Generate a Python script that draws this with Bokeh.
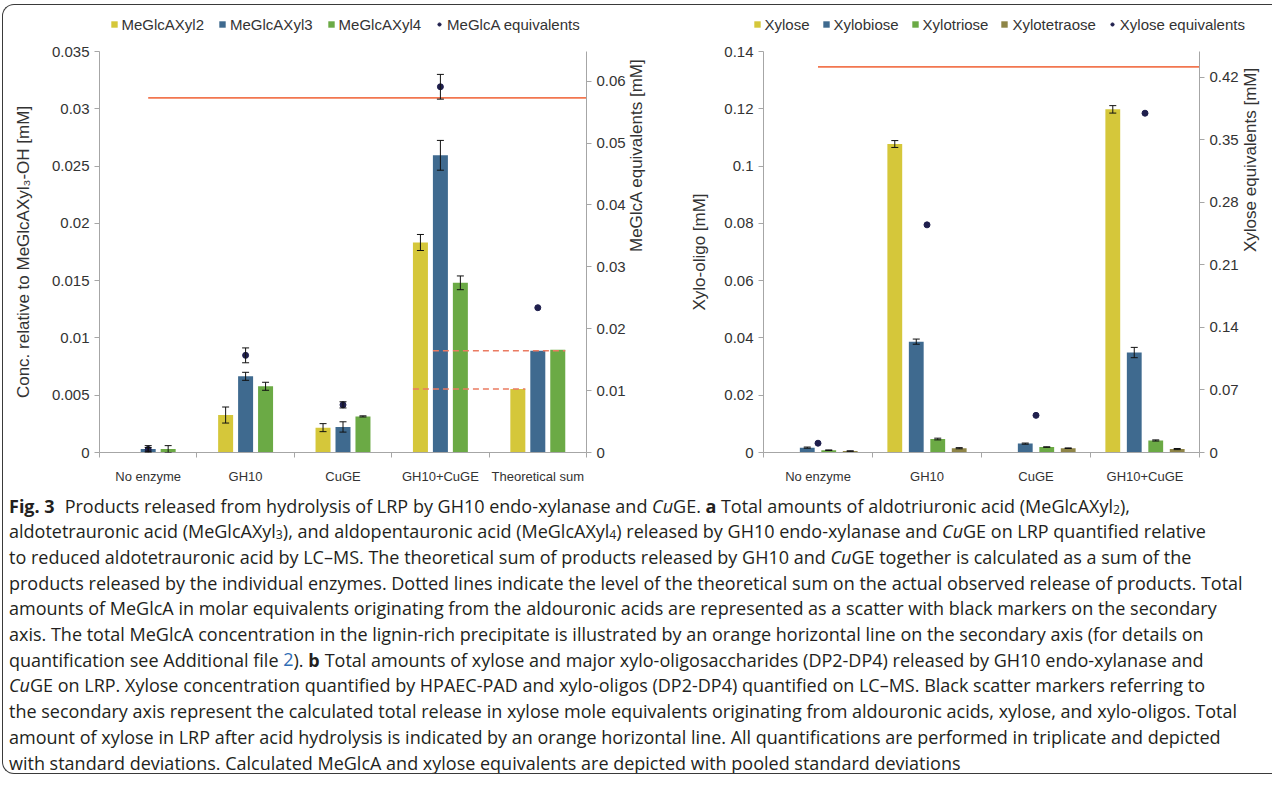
import math
import subprocess

from bokeh.plotting import figure
from bokeh.models import (Range1d, LinearAxis, FixedTicker, Whisker, TeeHead,
                          ColumnDataSource, Legend, LegendItem)
from bokeh.layouts import row, column
from bokeh.core.properties import value
from bokeh.embed import file_html
from bokeh.resources import INLINE

# ------------------------------------------------------------------ data: panel a
a_categories = ["No enzyme", "GH10", "CuGE", "GH10+CuGE", "Theoretical sum"]
a_series = ["MeGlcAXyl2", "MeGlcAXyl3", "MeGlcAXyl4"]
a_xyl2 = [0.00003, 0.00327, 0.00217, 0.01833, 0.00555]
a_xyl2_err = [0.0, 0.0007, 0.00035, 0.0007, 0.0]
a_xyl3 = [0.0003, 0.00665, 0.00223, 0.02594, 0.00888]
a_xyl3_err = [0.0003, 0.00035, 0.00045, 0.0013, 0.0]
a_xyl4 = [0.0003, 0.00578, 0.00315, 0.01481, 0.00896]
a_xyl4_err = [0.0003, 0.00035, 0.00005, 0.0006, 0.0]
a_eq_name = "MeGlcA equivalents"
a_eq = [0.0005, 0.0157, 0.0077, 0.0591, 0.0234]
a_eq_err = [0.0003, 0.0012, 0.0005, 0.002, 0.0]
a_total = 0.0573
a_left_max = 0.035
a_left_ticks = [0.0, 0.005, 0.01, 0.015, 0.02, 0.025, 0.03, 0.035]
a_left_tick_labels = ["0", "0.005", "0.01", "0.015", "0.02", "0.025", "0.03", "0.035"]
a_right_max = 0.0648
a_right_ticks = [0.0, 0.01, 0.02, 0.03, 0.04, 0.05, 0.06]
a_right_tick_labels = ["0", "0.01", "0.02", "0.03", "0.04", "0.05", "0.06"]
a_left_title = "Conc. relative to MeGlcAXyl\u2083-OH [mM]"
a_right_title = "MeGlcA equivalents [mM]"

# ------------------------------------------------------------------ data: panel b
b_categories = ["No enzyme", "GH10", "CuGE", "GH10+CuGE"]
b_series = ["Xylose", "Xylobiose", "Xylotriose", "Xylotetraose"]
b_xylose = [0.0001, 0.1077, 0.0001, 0.1198]
b_xylose_err = [0.0, 0.0012, 0.0, 0.0013]
b_xylobiose = [0.0017, 0.0387, 0.0031, 0.0349]
b_xylobiose_err = [0.0002, 0.0009, 0.0002, 0.0018]
b_xylotriose = [0.0008, 0.0047, 0.0019, 0.0042]
b_xylotriose_err = [0.0001, 0.0003, 0.0001, 0.0002]
b_xylotetraose = [0.0005, 0.0015, 0.0015, 0.0012]
b_xylotetraose_err = [0.0001, 0.0002, 0.0001, 0.0002]
b_eq_name = "Xylose equivalents"
b_eq = [0.0104, 0.2549, 0.0416, 0.3799]
b_eq_err = [0.0, 0.0, 0.0, 0.0]
b_total = 0.4318
b_left_max = 0.14
b_left_ticks = [0.0, 0.02, 0.04, 0.06, 0.08, 0.1, 0.12, 0.14]
b_left_tick_labels = ["0", "0.02", "0.04", "0.06", "0.08", "0.1", "0.12", "0.14"]
b_right_max = 0.449
b_right_ticks = [0.0, 0.07, 0.14, 0.21, 0.28, 0.35, 0.42]
b_right_tick_labels = ["0", "0.07", "0.14", "0.21", "0.28", "0.35", "0.42"]
b_left_title = "Xylo-oligo [mM]"
b_right_title = "Xylose equivalents [mM]"

# ------------------------------------------------------------------ caption text
caption_lines = [
    [("Fig. 3", "bold"), ("  Products released from hydrolysis of LRP by GH10 endo-xylanase and ", "normal"),
     ("Cu", "italic"), ("GE. ", "normal"), ("a", "bold"),
     (" Total amounts of aldotriuronic acid (MeGlcAXyl", "normal"), ("2", "sub"), ("),", "normal")],
    [("aldotetrauronic acid (MeGlcAXyl", "normal"), ("3", "sub"),
     ("), and aldopentauronic acid (MeGlcAXyl", "normal"), ("4", "sub"),
     (") released by GH10 endo-xylanase and ", "normal"), ("Cu", "italic"),
     ("GE on LRP quantified relative", "normal")],
    [("to reduced aldotetrauronic acid by LC\u2013MS. The theoretical sum of products released by GH10 and ", "normal"),
     ("Cu", "italic"), ("GE together is calculated as a sum of the", "normal")],
    [("products released by the individual enzymes. Dotted lines indicate the level of the theoretical sum on the actual observed release of products. Total", "normal")],
    [("amounts of MeGlcA in molar equivalents originating from the aldouronic acids are represented as a scatter with black markers on the secondary", "normal")],
    [("axis. The total MeGlcA concentration in the lignin-rich precipitate is illustrated by an orange horizontal line on the secondary axis (for details on", "normal")],
    [("quantification see Additional file ", "normal"), ("2", "link"), ("). ", "normal"), ("b", "bold"),
     (" Total amounts of xylose and major xylo-oligosaccharides (DP2-DP4) released by GH10 endo-xylanase and", "normal")],
    [("Cu", "italic"), ("GE on LRP. Xylose concentration quantified by HPAEC-PAD and xylo-oligos (DP2-DP4) quantified on LC\u2013MS. Black scatter markers referring to", "normal")],
    [("the secondary axis represent the calculated total release in xylose mole equivalents originating from aldouronic acids, xylose, and xylo-oligos. Total", "normal")],
    [("amount of xylose in LRP after acid hydrolysis is indicated by an orange horizontal line. All quantifications are performed in triplicate and depicted", "normal")],
    [("with standard deviations. Calculated MeGlcA and xylose equivalents are depicted with pooled standard deviations", "normal")],
]
# text of each caption line that lies left of the picture's middle (x = 640)
caption_left_parts = [
    "Fig. 3  Products released from hydrolysis of LRP by GH10 endo-xylanase ",
    "aldotetrauronic acid (MeGlcAXyl3), and aldopentauronic acid (MeGlcAXyl",
    "to reduced aldotetrauronic acid by LC\u2013MS. The theoretical sum of produ",
    "products released by the individual enzymes. Dotted lines indicate the le",
    "amounts of MeGlcA in molar equivalents originating from the aldouroni",
    "axis. The total MeGlcA concentration in the lignin-rich precipitate is illust",
    "quantification see Additional file 2). b Total amounts of xylose and major ",
    "CuGE on LRP. Xylose concentration quantified by HPAEC-PAD and xylo-ol",
    "the secondary axis represent the calculated total release in xylose mole e",
    "amount of xylose in LRP after acid hydrolysis is indicated by an orange ho",
    "with standard deviations. Calculated MeGlcA and xylose equivalents are ",
]

# ------------------------------------------------------------------ style
YELLOW = "#D5C73A"
BLUE = "#3F6A8F"
GREEN = "#6BAA45"
OLIVE = "#8E8547"
NAVY = "#1F1F4D"
ORANGE = "#F2764F"
DASH = "#EA7B62"
AXIS = "#A6A6A6"
TXT = "#333333"
ERR = "#111111"
CHART_FONT = "Liberation Sans"
CAP_FONT = "Open Sans"

FULL_W = 1269
CONTENT_H = 768
STRIP_H = 36
TOP_H = 445
MB_TOP = 10
MB_BOTTOM = 32


def blank_fig(w, h, xr, yr):
    f = figure(width=w, height=h, x_range=xr, y_range=yr, output_backend="svg",
               toolbar_location=None, min_border=0, x_axis_type=None, y_axis_type=None,
               background_fill_color=None, border_fill_color=None, outline_line_color=None)
    f.xgrid.visible = False
    f.ygrid.visible = False
    return f


def whisker(src, range_name=None):
    kw = {}
    if range_name:
        kw["y_range_name"] = range_name
    return Whisker(source=src, base="x", upper="upper", lower="lower", level="annotation",
                   line_color=ERR, line_width=1,
                   upper_head=TeeHead(size=7, line_color=ERR, line_width=1),
                   lower_head=TeeHead(size=7, line_color=ERR, line_width=1), **kw)


def style_axis(ax, ticks, labels):
    ax.ticker = FixedTicker(ticks=ticks)
    ax.major_label_overrides = dict(zip(ticks, labels))
    ax.minor_tick_line_color = None
    ax.major_tick_out = 5
    ax.major_tick_in = 0
    ax.axis_line_color = AXIS
    ax.major_tick_line_color = AXIS
    ax.major_label_text_font = CHART_FONT
    ax.major_label_text_font_size = "15px"
    ax.major_label_text_color = TXT
    ax.major_label_standoff = 5
    ax.axis_label_text_font = CHART_FONT
    ax.axis_label_text_font_size = "17px"
    ax.axis_label_text_font_style = "normal"
    ax.axis_label_text_color = TXT


def build_panel(width, mb_left, mb_right, cats, vals_list, errs_list, colors, pitch, bar_w,
                eq_vals, eq_errs, total, left_max, left_ticks, left_labels,
                right_max, right_ticks, right_labels, left_title, right_title,
                left_standoff, right_standoff):
    n = len(cats)
    p = figure(width=width, height=TOP_H, x_range=Range1d(0, n), y_range=Range1d(0, left_max),
               output_backend="svg", toolbar_location=None,
               min_border_left=mb_left, min_border_right=mb_right,
               min_border_top=MB_TOP, min_border_bottom=MB_BOTTOM,
               background_fill_color=None, border_fill_color=None, outline_line_color=None)
    p.extra_y_ranges = {"eq": Range1d(0, right_max)}
    p.xgrid.visible = False
    p.ygrid.visible = False

    centers = [i + 0.5 for i in range(n)]
    k = len(vals_list)
    bar_x = []
    for j, (vals, errs, col) in enumerate(zip(vals_list, errs_list, colors)):
        off = (j - (k - 1) / 2.0) * pitch
        xs = [c + off for c in centers]
        bar_x.append(xs)
        p.vbar(x=xs, top=vals, width=bar_w, fill_color=col, line_color=None)
        sel = [i for i in range(n) if errs[i] > 0]
        src = ColumnDataSource(dict(x=[xs[i] for i in sel],
                                    upper=[vals[i] + errs[i] for i in sel],
                                    lower=[vals[i] - errs[i] for i in sel]))
        p.add_layout(whisker(src))

    # total amount line (secondary axis)
    p.segment(x0=[centers[0]], y0=[total], x1=[n], y1=[total], line_color=ORANGE,
              line_width=1.8, y_range_name="eq")

    # equivalents scatter (secondary axis)
    p.scatter(x=centers, y=eq_vals, size=6, marker="circle", fill_color=NAVY,
              line_color=NAVY, y_range_name="eq")
    sel = [i for i in range(n) if eq_errs[i] > 0]
    src = ColumnDataSource(dict(x=[centers[i] for i in sel],
                                upper=[eq_vals[i] + eq_errs[i] for i in sel],
                                lower=[eq_vals[i] - eq_errs[i] for i in sel]))
    p.add_layout(whisker(src, "eq"))

    # axes
    xa = p.xaxis[0]
    xa.ticker = FixedTicker(ticks=centers, minor_ticks=list(range(n + 1)))
    xa.major_label_overrides = dict(zip(centers, cats))
    xa.major_tick_out = 0
    xa.major_tick_in = 0
    xa.minor_tick_out = 5
    xa.minor_tick_in = 0
    xa.minor_tick_line_color = AXIS
    xa.axis_line_color = AXIS
    xa.major_label_text_font = CHART_FONT
    xa.major_label_text_font_size = "13px"
    xa.major_label_text_color = TXT
    xa.major_label_standoff = 11

    ya = p.yaxis[0]
    style_axis(ya, left_ticks, left_labels)
    ya.axis_label = left_title
    ya.axis_label_standoff = left_standoff

    ra = LinearAxis(y_range_name="eq")
    style_axis(ra, right_ticks, right_labels)
    ra.axis_label = right_title
    ra.axis_label_standoff = right_standoff
    ra.axis_label_orientation = math.pi / 2
    p.add_layout(ra, "right")
    return p, bar_x


pa, a_bar_x = build_panel(680, 96, 97, a_categories, [a_xyl2, a_xyl3, a_xyl4],
                          [a_xyl2_err, a_xyl3_err, a_xyl4_err], [YELLOW, BLUE, GREEN],
                          0.205, 0.154, a_eq, a_eq_err, a_total,
                          a_left_max, a_left_ticks, a_left_tick_labels,
                          a_right_max, a_right_ticks, a_right_tick_labels,
                          a_left_title, a_right_title, 16, 8)

# dotted lines: level of the theoretical sum on the observed GH10+CuGE release
half = 0.154 / 2
pa.segment(x0=[a_bar_x[0][3] - half, a_bar_x[1][3] - half],
           y0=[a_xyl2[4], a_xyl3[4]],
           x1=[a_bar_x[0][4] + half, a_bar_x[2][4] + half],
           y1=[a_xyl2[4], a_xyl3[4]],
           line_color=DASH, line_width=1.5, line_dash="6 4")

pb, _ = build_panel(589, 80, 69, b_categories, [b_xylose, b_xylobiose, b_xylotriose, b_xylotetraose],
                    [b_xylose_err, b_xylobiose_err, b_xylotriose_err, b_xylotetraose_err],
                    [YELLOW, BLUE, GREEN, OLIVE],
                    0.197, 0.136, b_eq, b_eq_err, b_total,
                    b_left_max, b_left_ticks, b_left_tick_labels,
                    b_right_max, b_right_ticks, b_right_tick_labels,
                    b_left_title, b_right_title, 12, 9)

# ------------------------------------------------------------------ legends (strip above the plots)
# the strip's own renderers only provide legend swatches; their single point lies outside the view
strip = blank_fig(FULL_W, STRIP_H, Range1d(0, 1), Range1d(0, 1))


def legend_items(names, colors, eq_name):
    items = []
    for name, col in zip(names, colors):
        r = strip.vbar(x=[-10.0], top=[-9.0], bottom=[-10.0], width=0.1,
                       fill_color=col, line_color=None)
        items.append(LegendItem(label=name, renderers=[r]))
    r = strip.scatter(x=[-10.0], y=[-10.0], size=6, marker="circle",
                      fill_color=NAVY, line_color=NAVY)
    items.append(LegendItem(label=eq_name, renderers=[r]))
    return items


def make_legend(items, vx, spacing):
    return Legend(items=items, orientation="horizontal", location=(vx, 8.5),
                  glyph_width=8, glyph_height=8, label_standoff=4, spacing=spacing,
                  padding=0, margin=0, label_height=16,
                  label_text_font=CHART_FONT, label_text_font_size="15px",
                  label_text_color=TXT, border_line_color=None,
                  background_fill_alpha=0)


strip.add_layout(make_legend(legend_items(a_series, [YELLOW, BLUE, GREEN], a_eq_name), 106.5, 14))
strip.add_layout(make_legend(legend_items(b_series, [YELLOW, BLUE, GREEN, OLIVE], b_eq_name), 749.5, 12))


# ------------------------------------------------------------------ caption
def _font_file(pattern):
    try:
        out = subprocess.run(["fc-match", "-f", "%{file}", pattern], capture_output=True,
                             text=True, timeout=10).stdout.strip()
        return out or None
    except Exception:
        return None


class Measurer:
    def __init__(self, family):
        self.files = {
            "normal": _font_file(family + ":style=Regular"),
            "bold": _font_file(family + ":style=Bold"),
            "italic": _font_file(family + ":style=Italic"),
        }
        self.fonts = {}
        try:
            from PIL import ImageFont
            for k, f in self.files.items():
                if f:
                    self.fonts[k] = ImageFont.truetype(f, 100)
        except Exception:
            self.fonts = {}

    def width(self, text, size, style):
        f = self.fonts.get(style) or self.fonts.get("normal")
        if f is None:
            w = len(text) * 0.52 * size
            return w * (1.06 if style == "bold" else 1.0)
        w = f.getlength(text) * size / 100.0
        if style == "bold" and self.files.get("bold") == self.files.get("normal"):
            w *= 1.07
        return w


meas = Measurer(CAP_FONT)


def run_size(st, size):
    return size * 0.68 if st == "sub" else size


def run_mstyle(st):
    return st if st in ("bold", "italic") else "normal"


def prefix_width(runs, nchars, size):
    tot = 0.0
    left = nchars
    for t, st in runs:
        if left <= 0:
            break
        part = t[:left]
        tot += meas.width(part, run_size(st, size), run_mstyle(st))
        left -= len(part)
    return tot


CAP_W = FULL_W
CAP_H = CONTENT_H - STRIP_H - TOP_H
CAP_X0 = 5.5          # text start, px from the caption's left edge
CAP_SPLIT = 628.5     # picture x = 640 in caption coordinates
CAP_Y0 = 19.0
CAP_DY = 25.7

ratios = []
for runs, left_part in zip(caption_lines, caption_left_parts):
    w = prefix_width(runs, len(left_part), 100.0)
    if w > 0:
        ratios.append((CAP_SPLIT - CAP_X0) / w)
cap_size = 100.0 * sum(ratios) / len(ratios) if ratios else 16.0
longest = max(prefix_width(r, 10 ** 6, 100.0) for r in caption_lines)
cap_size = min(cap_size, 100.0 * (CAP_W - CAP_X0 - 3) / longest)
cap_size = max(13.0, min(18.0, cap_size))

groups = {st: dict(x=[], y=[], text=[]) for st in ("normal", "bold", "italic", "sub", "link")}
for li, runs in enumerate(caption_lines):
    x = CAP_X0
    yb = CAP_Y0 + li * CAP_DY
    for txt, st in runs:
        size = run_size(st, cap_size)
        ms = run_mstyle(st)
        lead = len(txt) - len(txt.lstrip(" "))
        body = txt.strip(" ")
        if body:
            groups[st]["x"].append(x + meas.width(" " * lead, size, ms))
            groups[st]["y"].append(yb + (3.5 if st == "sub" else 0.0))
            groups[st]["text"].append(body)
        x += meas.width(txt, size, ms)

pc = blank_fig(CAP_W, CAP_H, Range1d(0, CAP_W), Range1d(CAP_H, 0))

cap_styles = {
    "normal": ("normal", cap_size, "#231F20"),
    "bold": ("bold", cap_size, "#231F20"),
    "italic": ("italic", cap_size, "#231F20"),
    "sub": ("normal", cap_size * 0.68, "#231F20"),
    "link": ("normal", cap_size, "#2F6DB5"),
}
for st, g in groups.items():
    if not g["text"]:
        continue
    fs, sz, colr = cap_styles[st]
    pc.text(x=g["x"], y=g["y"], text=g["text"], text_font=value(CAP_FONT),
            text_font_size=value("%.2fpx" % sz), text_font_style=fs,
            text_color=colr, text_align="left", text_baseline="alphabetic")

layout = column(strip, row(pa, pb), pc, margin=(4, 0, 0, 2),
                styles={"border-top": "1.5px solid #3a3a3a",
                        "border-left": "1.5px solid #3a3a3a",
                        "border-bottom": "1.5px solid #3a3a3a",
                        "border-top-left-radius": "12px",
                        "border-bottom-left-radius": "12px"})

open("out.html", "w").write(file_html(layout, INLINE))
